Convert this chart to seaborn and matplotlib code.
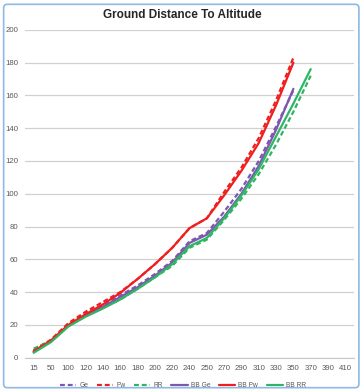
import numpy as np
import pandas as pd
import seaborn as sns
import matplotlib.pyplot as plt
from matplotlib.patches import FancyBboxPatch

sns.set_style(style="white")
plt.rcParams['font.family'] = ['Liberation Sans', 'DejaVu Sans']

# category axis (ground distance)
distances = ["15", "50", "100", "120", "140", "160", "180", "200", "220", "240",
             "250", "270", "290", "310", "330", "350", "370", "390", "410"]

# altitude series
ge = [4, 10.5, 20, 27, 32, 38, 44, 51, 59, 71, 76, 89, 103, 120, 141, 163]
pw = [4.5, 11, 21, 28, 34, 40, 48, 57, 67, 79, 85, 101, 116, 134, 157, 183]
rr = [5.5, 10.5, 19.5, 25.5, 30.5, 35.5, 42, 49, 56, 67, 72, 84, 97, 112, 130, 150, 172]
bb_ge = [3.5, 10, 19.5, 26, 31, 37, 43, 50, 58, 70, 75, 86, 100, 117, 139, 164]
bb_pw = [4, 10.5, 20, 26.5, 32.5, 39.5, 48, 57, 67, 79, 85, 99, 114, 131, 154, 180]
bb_rr = [3, 9.5, 19, 25, 30, 35.5, 42, 49, 57, 68, 73, 85, 99, 115, 135, 155, 176]

series = {
    'Ge': (ge, '#7E57B0', True),
    'Pw': (pw, '#F01E1E', True),
    'RR': (rr, '#2FB563', True),
    'BB Ge': (bb_ge, '#7E57B0', False),
    'BB Pw': (bb_pw, '#F01E1E', False),
    'BB RR': (bb_rr, '#2FB563', False),
}

fig = plt.figure(figsize=(3.64, 3.92), dpi=100)
ax = fig.add_axes([0.0687, 0.0875, 0.9038, 0.8365])

# outer chart frame
frame = FancyBboxPatch((0.01, 0.011), 0.976, 0.978, boxstyle="round,pad=0,rounding_size=0.01",
                       transform=fig.transFigure, facecolor='white', edgecolor='#8FB8E3',
                       linewidth=1.2, zorder=-10)
fig.patches.append(frame)

for name, (vals, color, dashed) in series.items():
    df = pd.DataFrame({'x': np.arange(len(vals)), 'y': vals})
    sns.lineplot(data=df, x='x', y='y', ax=ax, color=color, linewidth=1.6,
                 label=name, dashes=False,
                 linestyle=(0, (2.2, 1.3)) if dashed else '-')

ax.set_xlim(-0.5, len(distances) - 0.5)
ax.set_ylim(0, 200)
ax.set_xticks(np.arange(len(distances)))
ax.set_xticklabels(distances)
ax.set_yticks(np.arange(0, 201, 20))
ax.tick_params(axis='both', labelsize=5.6, colors='#595959', length=0)
ax.tick_params(axis='x', pad=5.5)
ax.tick_params(axis='y', pad=5)
ax.set_xlabel('')
ax.set_ylabel('')
ax.yaxis.grid(True, color='#D0D0D0', linewidth=0.9)
ax.set_axisbelow(True)
for s in ['top', 'right', 'left']:
    ax.spines[s].set_visible(False)
ax.spines['bottom'].set_color('#C8C8C8')
ax.set_facecolor('none')

fig.text(0.5, 0.961, 'Ground Distance To Altitude', ha='center', va='center',
         fontsize=8.5, fontweight='bold', color='#262626')

ax.legend(loc='center', bbox_to_anchor=(0.48, -0.085), ncol=6, frameon=False,
          fontsize=4.8, handlelength=2.5, handletextpad=0.4, columnspacing=1.3,
          labelcolor='#595959')

fig.savefig('out.png', dpi=100)
